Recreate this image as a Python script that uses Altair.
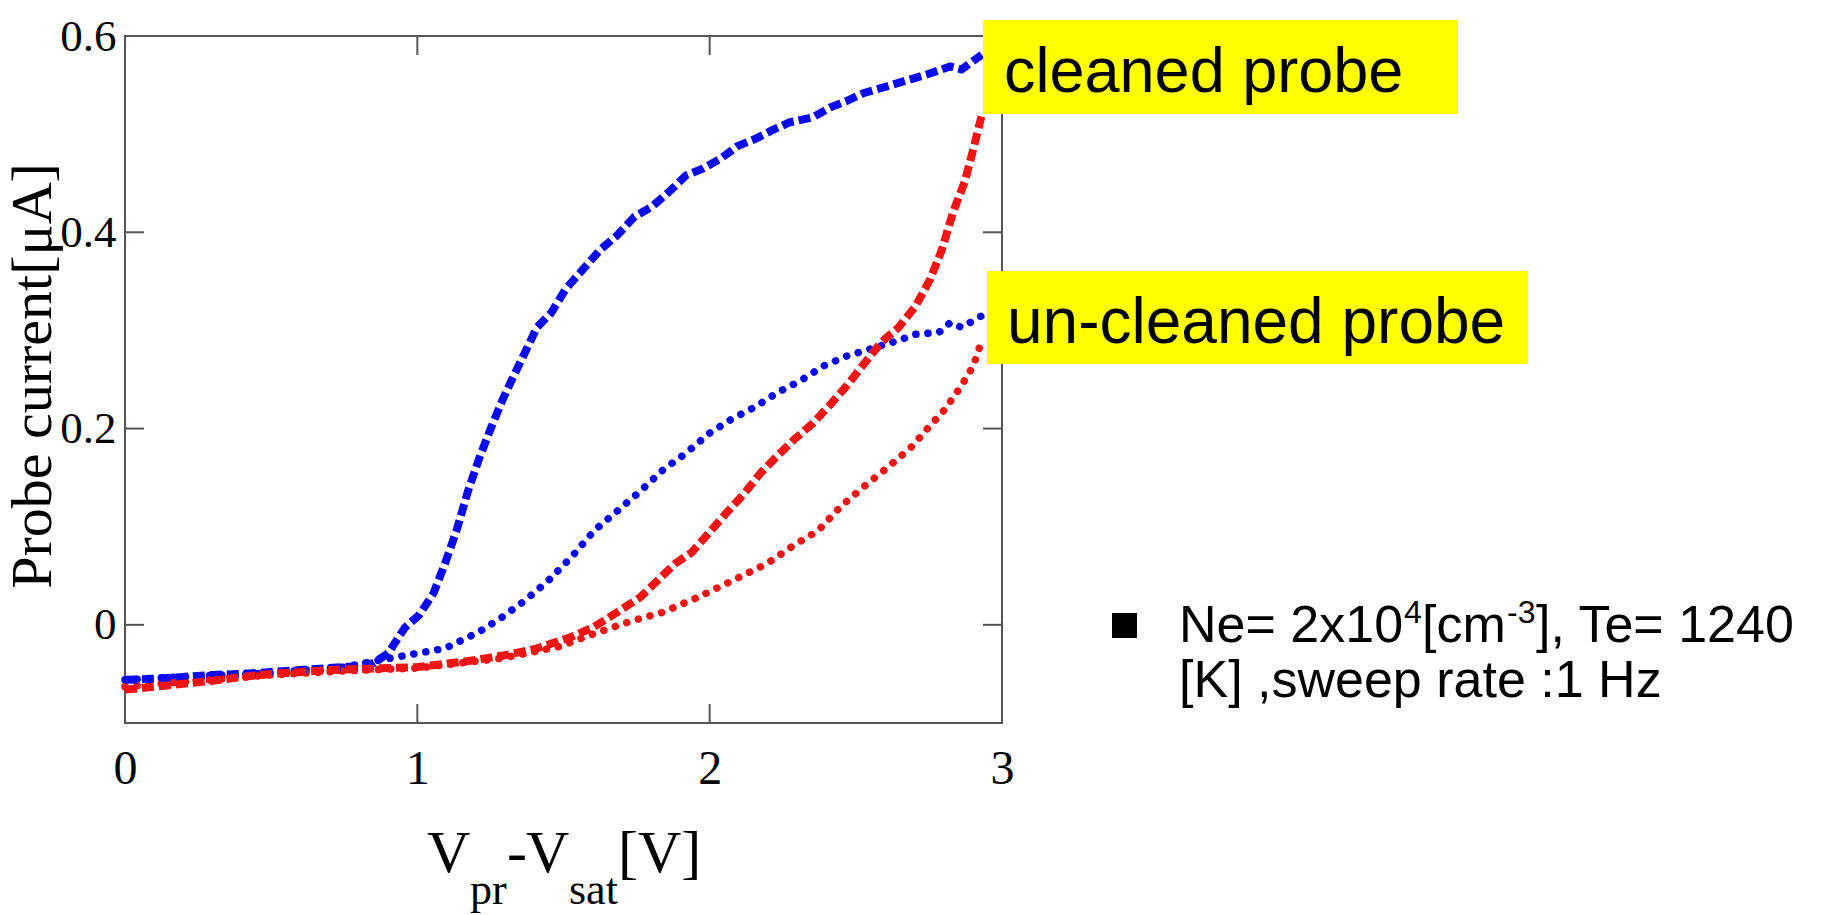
import altair as alt
import pandas as pd

# ---------------- data ----------------
# cleaned probe, blue (dashed)
cleaned_blue_x = [0.00, 0.10, 0.20, 0.30, 0.40, 0.50, 0.60, 0.70, 0.80, 0.85, 0.90, 0.957, 1.006, 1.055,
                  1.094, 1.134, 1.173, 1.212, 1.251, 1.291, 1.330, 1.369, 1.409, 1.458, 1.507, 1.566,
                  1.625, 1.684, 1.743, 1.802, 1.860, 1.919, 1.978, 2.037, 2.096, 2.155, 2.214, 2.273,
                  2.352, 2.411, 2.470, 2.528, 2.587, 2.666, 2.745, 2.823, 2.862, 2.931]
cleaned_blue_y = [-0.056, -0.055, -0.053, -0.051, -0.050, -0.048, -0.046, -0.044, -0.042, -0.039, -0.029,
                  -0.003, 0.010, 0.032, 0.062, 0.096, 0.136, 0.170, 0.200, 0.229, 0.254, 0.278, 0.303,
                  0.318, 0.342, 0.362, 0.382, 0.397, 0.416, 0.426, 0.441, 0.458, 0.465, 0.475, 0.488,
                  0.495, 0.504, 0.512, 0.517, 0.527, 0.534, 0.542, 0.547, 0.554, 0.561, 0.569, 0.566, 0.581]

# cleaned probe, red (dashed)
cleaned_red_x = [0.00, 0.10, 0.20, 0.30, 0.40, 0.50, 0.60, 0.70, 0.80, 0.90, 1.00, 1.17, 1.30, 1.41,
                 1.53, 1.605, 1.684, 1.762, 1.821, 1.880, 1.939, 1.998, 2.057, 2.116, 2.175, 2.234,
                 2.293, 2.352, 2.411, 2.470, 2.528, 2.587, 2.646, 2.705, 2.754, 2.794, 2.833, 2.872,
                 2.902, 2.931]
cleaned_red_y = [-0.066, -0.063, -0.060, -0.057, -0.053, -0.050, -0.048, -0.046, -0.045, -0.044, -0.043,
                 -0.037, -0.031, -0.024, -0.012, -0.002, 0.013, 0.028, 0.045, 0.062, 0.074, 0.094, 0.114,
                 0.133, 0.155, 0.173, 0.190, 0.205, 0.224, 0.244, 0.266, 0.288, 0.303, 0.325, 0.352,
                 0.382, 0.421, 0.451, 0.485, 0.520]

# un-cleaned probe, blue (dotted)
uncleaned_blue_x = [0.00, 0.25, 0.50, 0.75, 0.85, 1.00, 1.094, 1.212, 1.291, 1.369, 1.448, 1.527, 1.605,
                    1.684, 1.762, 1.841, 1.919, 1.998, 2.077, 2.155, 2.234, 2.312, 2.391, 2.470, 2.548,
                    2.627, 2.705, 2.784, 2.823, 2.862, 2.931]
uncleaned_blue_y = [-0.056, -0.052, -0.049, -0.043, -0.037, -0.029, -0.024, -0.007, 0.008, 0.025, 0.045,
                    0.069, 0.096, 0.116, 0.136, 0.158, 0.175, 0.195, 0.210, 0.222, 0.237, 0.249, 0.264,
                    0.274, 0.281, 0.288, 0.296, 0.298, 0.308, 0.303, 0.315]

# un-cleaned probe, red (dotted)
uncleaned_red_x = [0.00, 0.25, 0.50, 0.75, 1.00, 1.29, 1.487, 1.605, 1.723, 1.841, 1.959, 2.077, 2.194,
                   2.293, 2.371, 2.450, 2.528, 2.607, 2.686, 2.745, 2.803, 2.862, 2.902, 2.931]
uncleaned_red_y = [-0.063, -0.057, -0.051, -0.047, -0.044, -0.034, -0.022, -0.009, 0.003, 0.013, 0.028,
                   0.045, 0.062, 0.082, 0.096, 0.121, 0.141, 0.160, 0.180, 0.200, 0.219, 0.244, 0.264,
                   0.290]

series_names = ["cleaned probe (blue)", "cleaned probe (red)",
                "un-cleaned probe (blue)", "un-cleaned probe (red)"]
series_colors = ["#0a0aee", "#f01414", "#0a0aee", "#f01414"]

x_ticks = [0, 1, 2, 3]
y_ticks = [0, 0.2, 0.4, 0.6]
inner_x_ticks = [1, 2]
inner_y_ticks = [0, 0.2, 0.4]

annotation_texts = ["cleaned probe", "un-cleaned probe"]
legend_line1 = ["Ne= 2x10", "4", "[cm", "-3", "], Te= 1240"]
legend_line2 = "[K] ,sweep rate :1 Hz"
y_title = "Probe current[μA]"
x_title_parts = ["V", "pr", "-", "V", "sat", "[V]"]

# ---------------- build table ----------------
rows = []
for name, xs, ys, style in [
    (series_names[0], cleaned_blue_x, cleaned_blue_y, "dashed"),
    (series_names[1], cleaned_red_x, cleaned_red_y, "dashed"),
    (series_names[2], uncleaned_blue_x, uncleaned_blue_y, "dotted"),
    (series_names[3], uncleaned_red_x, uncleaned_red_y, "dotted"),
]:
    for i, (xv, yv) in enumerate(zip(xs, ys)):
        rows.append({"series": name, "x": xv, "y": yv, "style": style, "order": i})
df = pd.DataFrame(rows)

W, H = 877, 687
SERIF = "Liberation Serif"
SANS = "Liberation Sans"

xscale = alt.Scale(domain=[0, 3], nice=False, zero=False)
yscale = alt.Scale(domain=[-0.1, 0.6], nice=False, zero=False)
xaxis = alt.Axis(values=x_ticks, title=None, domain=False, ticks=False, tickSize=0, grid=False,
                 labelFont=SERIF, labelFontSize=48, labelPadding=22, labelFlush=False,
                 labelColor="black", format="d")
yaxis = alt.Axis(values=y_ticks, title=None, domain=False, ticks=False, tickSize=0, grid=False,
                 labelFont=SERIF, labelFontSize=45, labelPadding=9, labelFlush=False,
                 labelColor="black",
                 labelExpr="datum.value == 0 ? '0' : format(datum.value, '.1f')")
color = alt.Color("series:N", scale=alt.Scale(domain=series_names, range=series_colors), legend=None)

one = alt.Data(values=[{"k": 0}])

frame = alt.Chart(one).mark_rect(filled=False, stroke="#555555", strokeWidth=2).encode(
    x=alt.value(0), x2=alt.value(W), y=alt.value(0), y2=alt.value(H))

xt = pd.DataFrame({"x": inner_x_ticks})
yt = pd.DataFrame({"y": inner_y_ticks})
tick_style = dict(color="#555555", strokeWidth=2)
ticks_bottom = alt.Chart(xt).mark_rule(**tick_style).encode(
    x=alt.X("x:Q", scale=xscale, axis=xaxis), y=alt.value(H), y2=alt.value(H - 19))
ticks_top = alt.Chart(xt).mark_rule(**tick_style).encode(
    x=alt.X("x:Q", scale=xscale, axis=xaxis), y=alt.value(0), y2=alt.value(19))
ticks_left = alt.Chart(yt).mark_rule(**tick_style).encode(
    y=alt.Y("y:Q", scale=yscale, axis=yaxis), x=alt.value(0), x2=alt.value(19))
ticks_right = alt.Chart(yt).mark_rule(**tick_style).encode(
    y=alt.Y("y:Q", scale=yscale, axis=yaxis), x=alt.value(W), x2=alt.value(W - 19))

base = alt.Chart(df).encode(
    x=alt.X("x:Q", scale=xscale, axis=xaxis),
    y=alt.Y("y:Q", scale=yscale, axis=yaxis),
    color=color,
    order="order:Q",
    detail="series:N",
)
dashed = base.transform_filter(alt.datum.style == "dashed").mark_line(
    strokeWidth=8, strokeDash=[12, 5], strokeCap="butt")
dotted = base.transform_filter(alt.datum.style == "dotted").mark_line(
    strokeWidth=7.5, strokeDash=[0.1, 12], strokeCap="round")


def box(x1, x2, y1, y2):
    return alt.Chart(one).mark_rect(color="#FFFF00").encode(
        x=alt.value(x1), x2=alt.value(x2), y=alt.value(y1), y2=alt.value(y2))


def txt(t, x, y, size, font, align="left", baseline="alphabetic", angle=0):
    kw = dict(text=t, font=font, fontSize=size, align=align, baseline=baseline, color="black")
    if angle:
        kw["angle"] = angle
    return alt.Chart(one).mark_text(**kw).encode(x=alt.value(x), y=alt.value(y))


box1 = box(858, 1333, -16, 78)
box2 = box(862, 1403, 235, 328)
ann1 = txt(annotation_texts[0], 879, 56, 63, SANS)
ann2 = txt(annotation_texts[1], 882, 307, 64, SANS)

# legend block
square = alt.Chart(one).mark_rect(color="black").encode(
    x=alt.value(987), x2=alt.value(1012), y=alt.value(577), y2=alt.value(602))
L1y = 606
leg = [
    txt(legend_line1[0], 1054, L1y, 52, SANS),
    txt(legend_line1[1], 1279, L1y - 19, 32, SANS),
    txt(legend_line1[2], 1297, L1y, 52, SANS),
    txt(legend_line1[3], 1382, L1y - 19, 32, SANS),
    txt(legend_line1[4], 1411, L1y, 52, SANS),
    txt(legend_line2, 1054, L1y + 55, 52, SANS),
]

# axis titles
ytitle = txt(y_title, -91, 340, 58, SERIF, align="center", baseline="middle", angle=270)
xb, xs_ = 836, 868
xt_parts = [
    txt(x_title_parts[0], 302, xb, 60, SERIF),
    txt(x_title_parts[1], 345, xs_, 44, SERIF),
    txt(x_title_parts[2], 382, xb, 60, SERIF),
    txt(x_title_parts[3], 401, xb, 60, SERIF),
    txt(x_title_parts[4], 444, xs_, 44, SERIF),
    txt(x_title_parts[5], 493, xb, 60, SERIF),
]

chart = alt.layer(
    frame, ticks_bottom, ticks_top, ticks_left, ticks_right,
    dotted, dashed,
    box1, box2, ann1, ann2, square, *leg, ytitle, *xt_parts,
).properties(
    width=W, height=H,
    padding={"left": 125, "top": 36, "right": 1825 - 125 - W, "bottom": 915 - 36 - H},
    autosize=alt.AutoSizeParams(type="none"),
    background="white",
).configure_view(stroke=None)

chart.save("out.html", embed_options={"renderer": "svg", "actions": False})
